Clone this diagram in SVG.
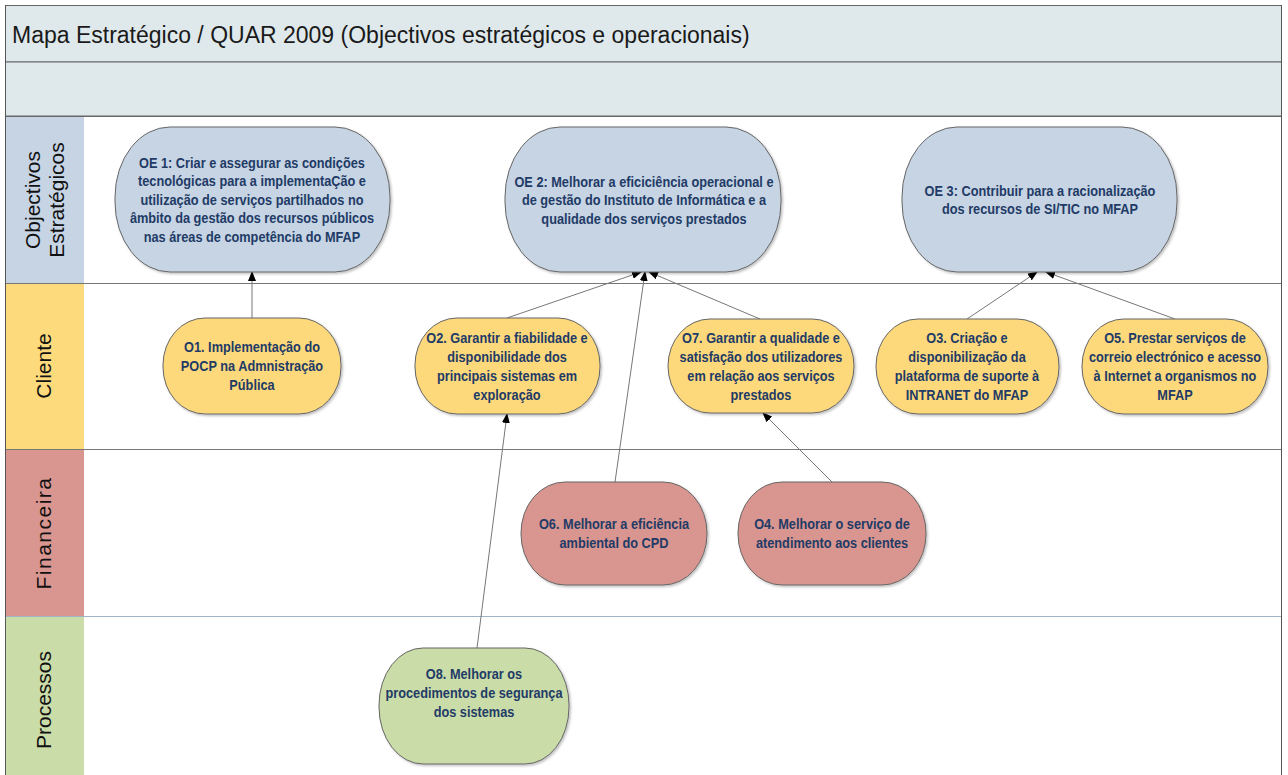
<svg xmlns="http://www.w3.org/2000/svg" width="1288" height="775" viewBox="0 0 1288 775">
<style>
.band{fill:#dfe9ec;stroke:#666;stroke-width:1}
.lbl{font-family:"Liberation Sans",Arial,sans-serif;font-size:21px;fill:#111;text-anchor:middle}
.node{stroke:#666;stroke-width:1}
.oe{fill:#c6d4e4}
.cl{fill:#fdd97c}
.fi{fill:#d9958f}
.pr{fill:#cadca8}
.t{font-family:"Liberation Sans Narrow","Liberation Sans",Arial,sans-serif;font-weight:bold;font-size:15px;fill:#1f3b66;text-anchor:middle}
.conn line{stroke:#777;stroke-width:1}
</style>
<defs>
<marker id="ah" markerUnits="userSpaceOnUse" markerWidth="10" markerHeight="8" refX="9" refY="4" orient="auto">
<path d="M0,0 L10,4 L0,8 z" fill="#000"/>
</marker>
<filter id="sh" x="-10%" y="-10%" width="125%" height="125%">
<feDropShadow dx="1.5" dy="1.5" stdDeviation="1.2" flood-color="#000" flood-opacity="0.25"/>
</filter>
</defs>
<rect x="0" y="0" width="1288" height="775" fill="#fff"/>
<g id="frame">
<rect class="band" x="5.5" y="5.5" width="1276" height="56.5"/>
<rect class="band" x="5.5" y="62" width="1276" height="54"/>
<text x="12" y="43" font-family="'Liberation Sans',Arial,sans-serif" font-size="23" fill="#1a1a1a">Mapa Estratégico / QUAR 2009 (Objectivos estratégicos e operacionais)</text>
<rect x="84" y="116" width="1197.5" height="665" fill="#fff"/>
<rect x="5.5" y="116" width="78.5" height="167" fill="#c6d4e4"/>
<rect x="5.5" y="283" width="78.5" height="167" fill="#fddb7c"/>
<rect x="5.5" y="450" width="78.5" height="166" fill="#d9958f"/>
<rect x="5.5" y="616" width="78.5" height="165" fill="#cadca8"/>
<line x1="5.5" y1="116.5" x2="1281.5" y2="116.5" stroke="#666"/>
<line x1="5.5" y1="283.5" x2="1281.5" y2="283.5" stroke="#777"/>
<line x1="5.5" y1="449.5" x2="1281.5" y2="449.5" stroke="#777"/>
<line x1="5.5" y1="616.5" x2="1281.5" y2="616.5" stroke="#9fb4c8"/>
<line x1="5.5" y1="5" x2="5.5" y2="775" stroke="#555"/>
<line x1="1281.5" y1="5" x2="1281.5" y2="775" stroke="#555"/>
<text class="lbl" transform="translate(33,200) rotate(-90)" dy="0.35em">Objectivos</text>
<text class="lbl" transform="translate(57,200) rotate(-90)" dy="0.35em">Estratégicos</text>
<text class="lbl" transform="translate(44,366) rotate(-90)" dy="0.35em">Cliente</text>
<text class="lbl" transform="translate(44,533) rotate(-90)" dy="0.35em" letter-spacing="1.5">Financeira</text>
<text class="lbl" transform="translate(44,700) rotate(-90)" dy="0.35em">Processos</text>
</g>
<g id="connectors" class="conn">
<line x1="252" y1="318" x2="252" y2="272" marker-end="url(#ah)"/>
<line x1="507" y1="318" x2="641" y2="272" marker-end="url(#ah)"/>
<line x1="615" y1="482" x2="645" y2="272" marker-end="url(#ah)"/>
<line x1="760" y1="319" x2="649" y2="272" marker-end="url(#ah)"/>
<line x1="967" y1="319" x2="1037" y2="272" marker-end="url(#ah)"/>
<line x1="1175" y1="319" x2="1046" y2="272" marker-end="url(#ah)"/>
<line x1="832" y1="482" x2="763" y2="413" marker-end="url(#ah)"/>
<line x1="477" y1="648" x2="507" y2="414" marker-end="url(#ah)"/>
</g>
<g id="OE1"><rect class="node oe" filter="url(#sh)" x="115" y="127" width="275" height="145" rx="55" ry="70"/>
<text class="t" transform="matrix(0.85 0 0 1 37.8 0)"><tspan x="252" y="168">OE 1: Criar e assegurar as condições</tspan><tspan x="252" y="186.5">tecnológicas para a implementaÇão e</tspan><tspan x="252" y="205">utilização de serviços partilhados no</tspan><tspan x="252" y="223.5">âmbito da gestão dos recursos públicos</tspan><tspan x="252" y="242">nas áreas de competência do MFAP</tspan></text></g>
<g id="OE2"><rect class="node oe" filter="url(#sh)" x="505" y="127" width="276" height="145" rx="55" ry="70"/>
<text class="t" transform="matrix(0.85 0 0 1 96.6 0)"><tspan x="644" y="187">OE 2: Melhorar a eficiciência operacional e</tspan><tspan x="644" y="205.5">de gestão do Instituto de Informática e a</tspan><tspan x="644" y="224">qualidade dos serviços prestados</tspan></text></g>
<g id="OE3"><rect class="node oe" filter="url(#sh)" x="902" y="127" width="275" height="145" rx="55" ry="70"/>
<text class="t" transform="matrix(0.85 0 0 1 156 0)"><tspan x="1040" y="196">OE 3: Contribuir para a racionalização</tspan><tspan x="1040" y="214.5">dos recursos de SI/TIC no MFAP</tspan></text></g>
<g id="O1"><rect class="node cl" filter="url(#sh)" x="163" y="318" width="178" height="96" rx="42" ry="47"/>
<text class="t" transform="matrix(0.85 0 0 1 37.8 0)"><tspan x="252" y="352">O1. Implementação do</tspan><tspan x="252" y="371">POCP na Admnistração</tspan><tspan x="252" y="390">Pública</tspan></text></g>
<g id="O2"><rect class="node cl" filter="url(#sh)" x="415" y="318" width="185" height="96" rx="42" ry="47"/>
<text class="t" transform="matrix(0.85 0 0 1 76.05 0)"><tspan x="507" y="343">O2. Garantir a fiabilidade e</tspan><tspan x="507" y="362">disponibilidade dos</tspan><tspan x="507" y="381">principais sistemas em</tspan><tspan x="507" y="400">exploração</tspan></text></g>
<g id="O7"><rect class="node cl" filter="url(#sh)" x="668" y="319" width="186" height="94" rx="42" ry="47"/>
<text class="t" transform="matrix(0.85 0 0 1 114.15 0)"><tspan x="761" y="343">O7. Garantir a qualidade e</tspan><tspan x="761" y="362">satisfação dos utilizadores</tspan><tspan x="761" y="381">em relação aos serviços</tspan><tspan x="761" y="400">prestados</tspan></text></g>
<g id="O3"><rect class="node cl" filter="url(#sh)" x="876" y="319" width="183" height="95" rx="42" ry="47"/>
<text class="t" transform="matrix(0.85 0 0 1 145.05 0)"><tspan x="967" y="343">O3. Criação e</tspan><tspan x="967" y="362">disponibilização da</tspan><tspan x="967" y="381">plataforma de suporte à</tspan><tspan x="967" y="400">INTRANET do MFAP</tspan></text></g>
<g id="O5"><rect class="node cl" filter="url(#sh)" x="1082" y="319" width="186" height="95" rx="42" ry="47"/>
<text class="t" transform="matrix(0.85 0 0 1 176.25 0)"><tspan x="1175" y="343">O5. Prestar serviços de</tspan><tspan x="1175" y="362">correio electrónico e acesso</tspan><tspan x="1175" y="381">à Internet a organismos no</tspan><tspan x="1175" y="400">MFAP</tspan></text></g>
<g id="O6"><rect class="node fi" filter="url(#sh)" x="521" y="482" width="186" height="103" rx="44" ry="51"/>
<text class="t" transform="matrix(0.85 0 0 1 92.1 0)"><tspan x="614" y="529">O6. Melhorar a eficiência</tspan><tspan x="614" y="548">ambiental do CPD</tspan></text></g>
<g id="O4"><rect class="node fi" filter="url(#sh)" x="738" y="482" width="188" height="103" rx="44" ry="51"/>
<text class="t" transform="matrix(0.85 0 0 1 124.8 0)"><tspan x="832" y="529">O4. Melhorar o serviço de</tspan><tspan x="832" y="548">atendimento aos clientes</tspan></text></g>
<g id="O8"><rect class="node pr" filter="url(#sh)" x="379" y="648" width="190" height="116" rx="44" ry="57"/>
<text class="t" transform="matrix(0.85 0 0 1 71.1 0)"><tspan x="474" y="679">O8. Melhorar os</tspan><tspan x="474" y="698">procedimentos de segurança</tspan><tspan x="474" y="717">dos sistemas</tspan></text></g>
</svg>
